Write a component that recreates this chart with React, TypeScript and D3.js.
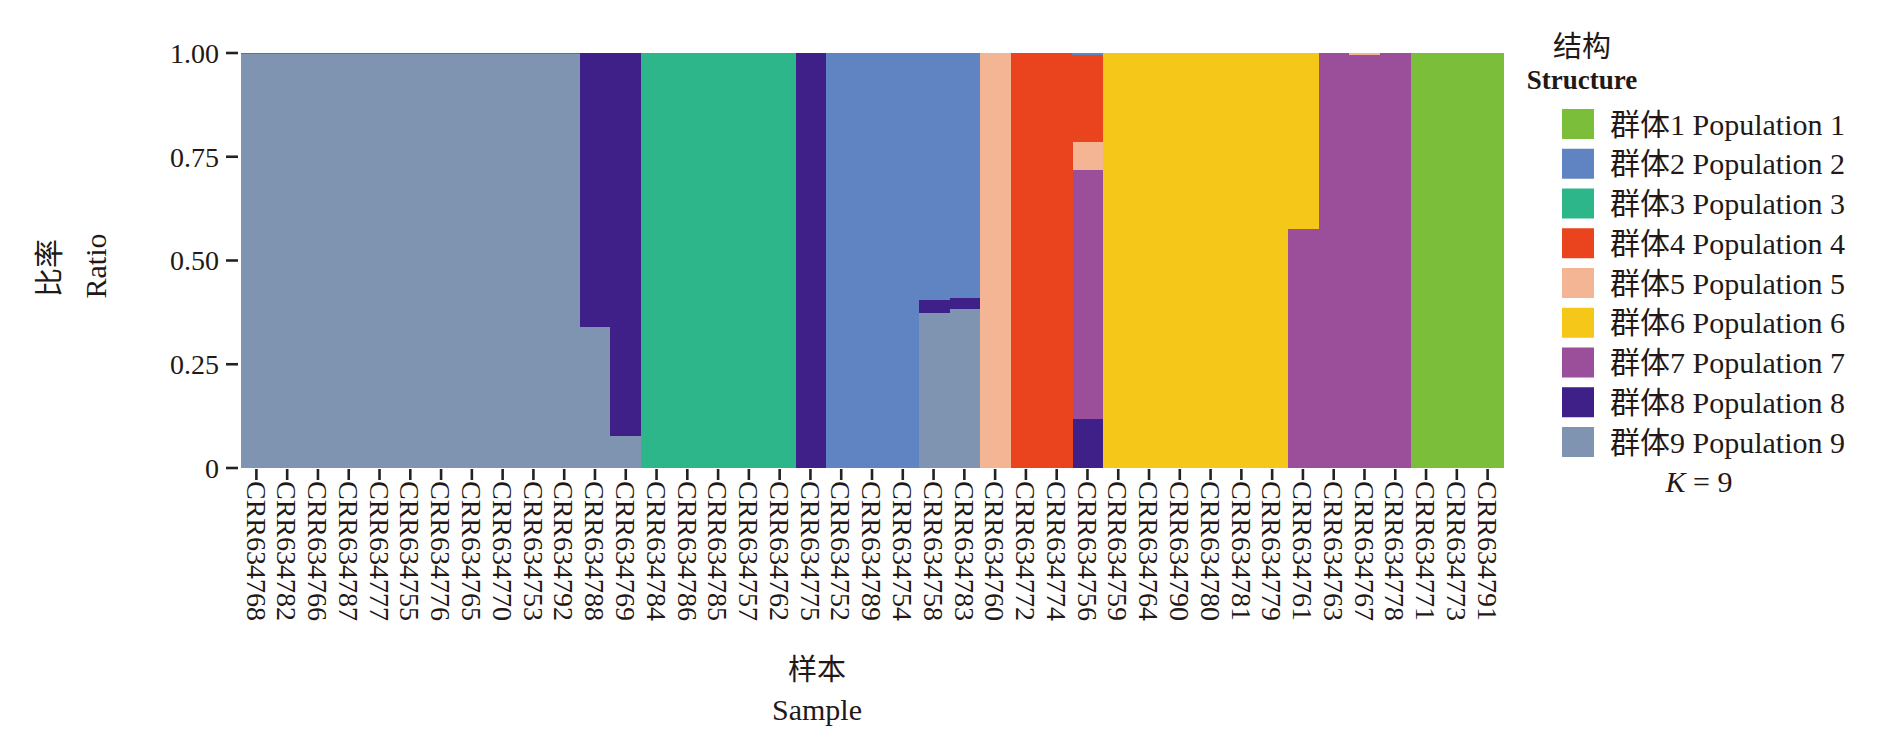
import * as d3 from 'd3'

const samples = [
  'CRR634768', 'CRR634782', 'CRR634766', 'CRR634787', 'CRR634777', 'CRR634755',
  'CRR634776', 'CRR634765', 'CRR634770', 'CRR634753', 'CRR634792', 'CRR634788',
  'CRR634769', 'CRR634784', 'CRR634786', 'CRR634785', 'CRR634757', 'CRR634762',
  'CRR634775', 'CRR634752', 'CRR634789', 'CRR634754', 'CRR634758', 'CRR634783',
  'CRR634760', 'CRR634772', 'CRR634774', 'CRR634756', 'CRR634759', 'CRR634764',
  'CRR634790', 'CRR634780', 'CRR634781', 'CRR634779', 'CRR634761', 'CRR634763',
  'CRR634767', 'CRR634778', 'CRR634771', 'CRR634773', 'CRR634791',
]

// ancestry proportions per population, one value per sample (same order as samples)
const pop1 = [0,0,0,0,0,0,0,0,0,0,0,0,0,0,0,0,0,0,0,0,0,0,0,0,0,0,0,0,0,0,0,0,0,0,0,0,0,0,1,1,1]
const pop2 = [0,0,0,0,0,0,0,0,0,0,0,0,0,0,0,0,0,0,0,1,1,1,0.594,0.59,0,0,0,0.005,0,0,0,0,0,0,0,0,0,0,0,0,0]
const pop3 = [0,0,0,0,0,0,0,0,0,0,0,0,0,1,1,1,1,1,0,0,0,0,0,0,0,0,0,0,0,0,0,0,0,0,0,0,0,0,0,0,0]
const pop4 = [0,0,0,0,0,0,0,0,0,0,0,0,0,0,0,0,0,0,0,0,0,0,0,0,0,1,1,0.209,0,0,0,0,0,0,0,0,0,0,0,0,0]
const pop5 = [0,0,0,0,0,0,0,0,0,0,0,0,0,0,0,0,0,0,0,0,0,0,0,0,1,0,0,0.068,0,0,0,0,0,0,0,0,0.004,0,0,0,0]
const pop6 = [0,0,0,0,0,0,0,0,0,0,0,0,0,0,0,0,0,0,0,0,0,0,0,0,0,0,0,0,1,1,1,1,1,1,0.425,0,0,0,0,0,0]
const pop7 = [0.002,0.002,0.002,0.002,0.002,0.002,0.002,0.002,0.002,0.002,0.002,0,0,0,0,0,0,0,0,0,0,0,0,0,0,0,0,0.6,0,0,0,0,0,0,0.575,1,0.996,1,0,0,0]
const pop8 = [0,0,0,0,0,0,0,0,0,0,0,0.66,0.922,0,0,0,0,0,1,0,0,0,0.032,0.027,0,0,0,0.118,0,0,0,0,0,0,0,0,0,0,0,0,0]
const pop9 = [0.998,0.998,0.998,0.998,0.998,0.998,0.998,0.998,0.998,0.998,0.998,0.34,0.078,0,0,0,0,0,0,0,0,0,0.374,0.383,0,0,0,0,0,0,0,0,0,0,0,0,0,0,0,0,0]

const popValues = [pop1, pop2, pop3, pop4, pop5, pop6, pop7, pop8, pop9]
const popKeys = ['p1', 'p2', 'p3', 'p4', 'p5', 'p6', 'p7', 'p8', 'p9']
const popLabels = [
  '群体1 Population 1', '群体2 Population 2', '群体3 Population 3',
  '群体4 Population 4', '群体5 Population 5', '群体6 Population 6',
  '群体7 Population 7', '群体8 Population 8', '群体9 Population 9',
]
const popColors = [
  '#7bbe3a', '#6084c2', '#2cb68a', '#ea441e', '#f4b595',
  '#f5c718', '#9b4f9a', '#3f1f88', '#7f94b1',
]

const yTicks = [0, 0.25, 0.5, 0.75, 1]
const yTickLabels = ['0', '0.25', '0.50', '0.75', '1.00']

const serif = '"Liberation Serif", "Times New Roman", "Noto Sans CJK SC", serif'

export default function App() {
  const width = 1878
  const height = 733
  const plot = { left: 241, right: 1503, top: 53, bottom: 468 }

  const x = d3.scaleBand<string>().domain(samples).range([plot.left, plot.right]).padding(0)
  const y = d3.scaleLinear().domain([0, 1]).range([plot.bottom, plot.top])
  const color = d3.scaleOrdinal<string, string>().domain(popKeys).range(popColors)

  const rows = samples.map((s, i) => {
    const r: Record<string, number | string> = { sample: s }
    popKeys.forEach((k, j) => (r[k] = popValues[j][i]))
    return r
  })

  // population 9 at the bottom, population 1 on top
  const stacked = d3
    .stack<Record<string, number | string>>()
    .keys([...popKeys].reverse())
    .value((d, k) => d[k] as number)(rows)

  const bw = x.bandwidth()

  return (
    <svg
      width={width}
      height={height}
      style={{ position: 'absolute', left: 0, top: 0, background: 'white' }}
      fontFamily={serif}
    >
      <rect width={width} height={height} fill="white" />

      {/* bars */}
      {stacked.map((layer) => (
        <g key={layer.key} fill={color(layer.key)} shapeRendering="crispEdges">
          {layer.map((d, i) =>
            d[1] - d[0] > 0 ? (
              <rect
                key={i}
                x={x(samples[i])!}
                y={y(d[1])}
                width={bw + 0.6}
                height={y(d[0]) - y(d[1])}
              />
            ) : null
          )}
        </g>
      ))}

      {/* y axis */}
      {yTicks.map((t, i) => (
        <g key={t}>
          <line x1={226} x2={238} y1={y(t)} y2={y(t)} stroke="#222" strokeWidth={2.6} />
          <text x={219} y={y(t)} dy="0.35em" textAnchor="end" fontSize={28} fill="#231815">
            {yTickLabels[i]}
          </text>
        </g>
      ))}

      {/* x axis */}
      {samples.map((s) => {
        const cx = x(s)! + bw / 2
        return (
          <g key={s}>
            <line x1={cx} x2={cx} y1={469} y2={480} stroke="#222" strokeWidth={2.6} />
            <text
              transform={`translate(${cx},481) rotate(90)`}
              dy="0.35em"
              textAnchor="start"
              fontSize={28}
              fill="#231815"
            >
              {s}
            </text>
          </g>
        )
      })}

      {/* axis titles */}
      <text transform="translate(50,268) rotate(-90)" dy="0.35em" textAnchor="middle" fontSize={29} fill="#231815">
        比率
      </text>
      <text transform="translate(95,266) rotate(-90)" dy="0.35em" textAnchor="middle" fontSize={30} fill="#231815">
        Ratio
      </text>
      <text x={817} y={680} textAnchor="middle" fontSize={29} fill="#231815">
        样本
      </text>
      <text x={817} y={720} textAnchor="middle" fontSize={30} fill="#231815">
        Sample
      </text>

      {/* legend */}
      <text x={1582} y={57} textAnchor="middle" fontSize={29} fill="#231815">
        结构
      </text>
      <text x={1582} y={89} textAnchor="middle" fontSize={27} fontWeight="bold" fill="#231815">
        Structure
      </text>
      {popLabels.map((lab, i) => {
        const top = 109 + i * 39.75
        return (
          <g key={lab}>
            <rect x={1562} y={top} width={32} height={30} fill={popColors[i]} />
            <text x={1610} y={top + 15} dy="0.35em" fontSize={30} fill="#231815">
              {lab}
            </text>
          </g>
        )
      })}
      <text x={1699} y={492} textAnchor="middle" fontSize={30} fill="#231815">
        <tspan fontStyle="italic">K</tspan>
        <tspan> = 9</tspan>
      </text>
    </svg>
  )
}
